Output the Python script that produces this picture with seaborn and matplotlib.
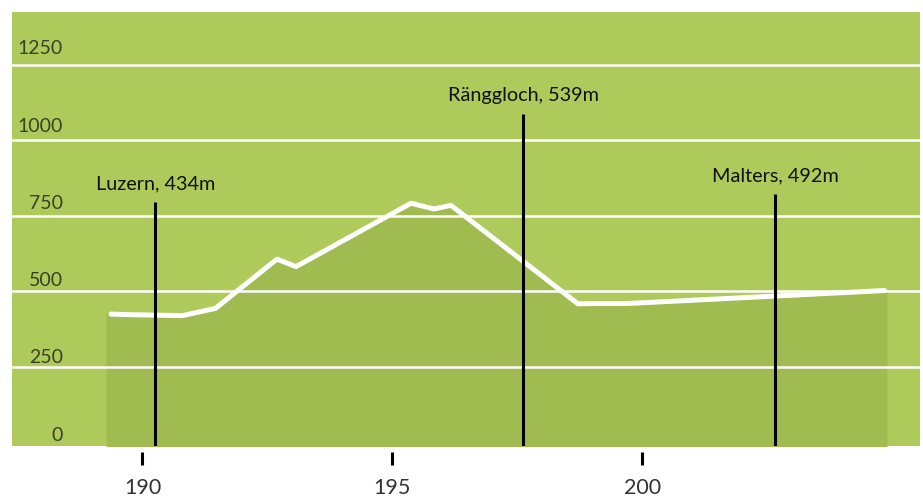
import numpy as np
import pandas as pd
import matplotlib.pyplot as plt
import matplotlib.transforms as mtransforms
import seaborn as sns

# elevation profile (km, m)
km = [189.37, 189.75, 190.80, 191.46, 192.69, 193.07, 195.37, 195.83, 196.17, 198.71, 199.00, 199.70, 204.84]
elev = [425, 423, 420, 444, 607, 582, 792, 773, 785, 459, 460, 460, 503]

# shaded area under profile (slightly wider than the line)
fill_km = [189.27] + km[1:-1] + [204.89]
fill_elev = [430] + elev[1:-1] + [502]

# place markers
places = ["Luzern, 434m", "Ränggloch, 539m", "Malters, 492m"]
place_km = [190.26, 197.62, 202.66]
place_top = [796, 1088, 823]

grid_vals = [250, 500, 750, 1000, 1250]
ylabels = [0, 250, 500, 750, 1000, 1250]
xticks = [190, 195, 200]

sns.set_style("white")
plt.rcParams['font.family'] = ['Lato', 'DejaVu Sans']

fig = plt.figure(figsize=(9.23, 4.97), dpi=100)
ax = fig.add_axes([0.013, 0.1026, 0.9837, 0.8733])
ax.set_facecolor("#adca5a")

ax.fill_between(fill_km, fill_elev, -20, color="#a0bb50", linewidth=0, zorder=1)

for v in grid_vals:
    ax.axhline(v, color="white", linewidth=1.8, zorder=2)

df = pd.DataFrame({"km": km, "elev": elev})
sns.lineplot(data=df, x="km", y="elev", ax=ax, color="white", linewidth=3.6,
             sort=False, zorder=3)

for name, x, top in zip(places, place_km, place_top):
    ax.plot([x, x], [-20, top], color="black", linewidth=2.2, zorder=4, solid_capstyle="butt")
    ax.annotate(name, xy=(x, top), xytext=(0, 9), textcoords="offset points",
                ha="center", va="baseline", fontsize=14.3, color="#111111")

# y labels sit inside the plot, above the grid lines
for v in ylabels:
    off = mtransforms.ScaledTranslation(0, (2 + 8.5 * v / 1250) / 100, fig.dpi_scale_trans)
    tr = mtransforms.blended_transform_factory(ax.transAxes, ax.transData) + off
    ax.text(0.056, v, str(v), transform=tr, ha="right", va="baseline",
            fontsize=14, color="#3b4127")

ax.set_xlim(187.39, 205.55)
ax.set_ylim(-11.6, 1425)
ax.set_xticks(xticks)
ax.set_xticklabels([str(t) for t in xticks])
ax.set_yticks([])
ax.tick_params(axis="x", length=9.4, width=2.2, color="black", pad=9, bottom=True,
               labelsize=15.5, labelcolor="#333333")
ax.set_xlabel("")
ax.set_ylabel("")
for s in ["top", "right", "left"]:
    ax.spines[s].set_visible(False)
ax.spines["bottom"].set_position(("outward", 4.5))
ax.spines["bottom"].set_color("none")

plt.savefig("out.png", dpi=100)
